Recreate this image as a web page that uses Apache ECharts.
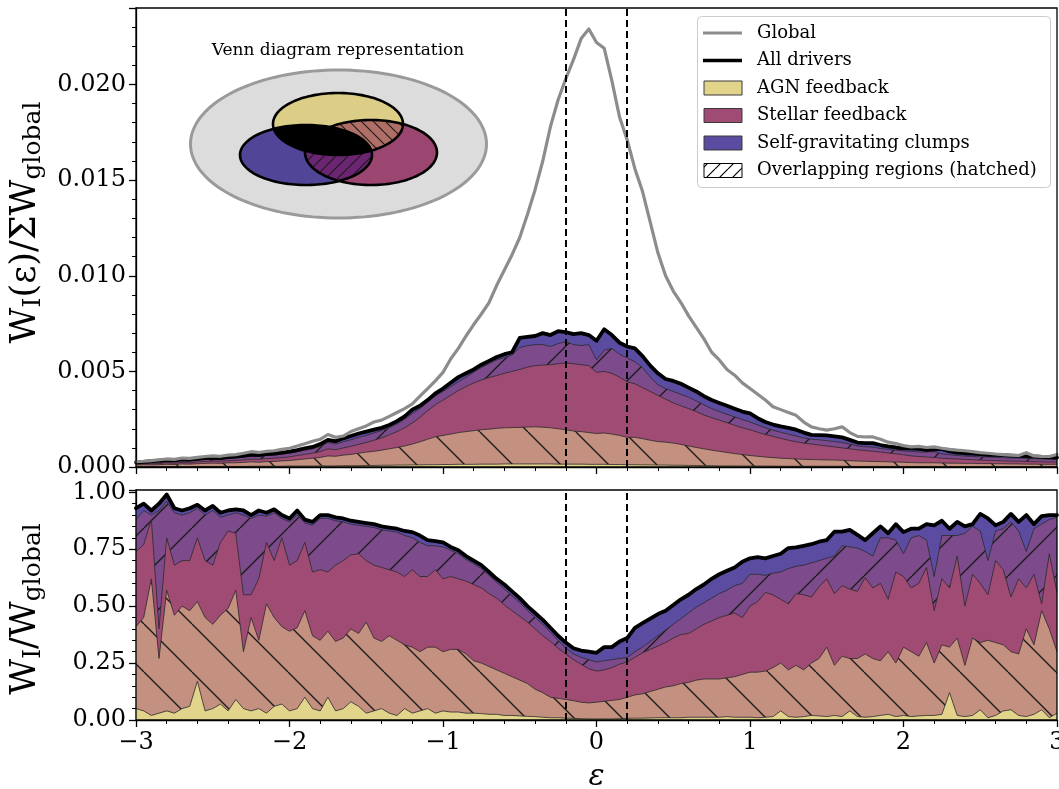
<!DOCTYPE html>
<html>
<head>
<meta charset="utf-8">
<script src="https://cdn.jsdelivr.net/npm/echarts@6/dist/echarts.min.js"></script>
<style>
  html, body { margin: 0; padding: 0; background: #fff; }
  #chart { width: 1059px; height: 789px; }
</style>
</head>
<body>
<div id="chart"></div>
<script>
// Bin centres in epsilon
const eps = [-3,-2.95,-2.9,-2.85,-2.8,-2.75,-2.7,-2.65,-2.6,-2.55,-2.5,-2.45,-2.4,-2.35,-2.3,-2.25,-2.2,-2.15,-2.1,-2.05,
  -2,-1.95,-1.9,-1.85,-1.8,-1.75,-1.7,-1.65,-1.6,-1.55,-1.5,-1.45,-1.4,-1.35,-1.3,-1.25,-1.2,-1.15,-1.1,-1.05,
  -1,-0.95,-0.9,-0.85,-0.8,-0.75,-0.7,-0.65,-0.6,-0.55,-0.5,-0.45,-0.4,-0.35,-0.3,-0.25,-0.2,-0.15,-0.1,-0.05,
  0,0.05,0.1,0.15,0.2,0.25,0.3,0.35,0.4,0.45,0.5,0.55,0.6,0.65,0.7,0.75,0.8,0.85,0.9,0.95,
  1,1.05,1.1,1.15,1.2,1.25,1.3,1.35,1.4,1.45,1.5,1.55,1.6,1.65,1.7,1.75,1.8,1.85,1.9,1.95,
  2,2.05,2.1,2.15,2.2,2.25,2.3,2.35,2.4,2.45,2.5,2.55,2.6,2.65,2.7,2.75,2.8,2.85,2.9,2.95,3];

// Upper panel: W_I(eps)/sum W_global, stored in units of 1e-3
const TOP_UNIT = 1e-3;
const globalTop = [0.28,0.30,0.33,0.38,0.42,0.40,0.47,0.45,0.50,0.55,
  0.58,0.56,0.62,0.65,0.72,0.80,0.76,0.82,0.85,0.92,
  0.98,1.10,1.22,1.35,1.45,1.70,1.55,1.62,1.85,2.00,
  2.15,2.35,2.45,2.65,2.85,3.05,3.30,3.70,4.10,4.50,
  4.95,5.65,6.20,6.85,7.45,8.00,8.60,9.50,10.30,11.10,
  12.00,13.20,14.50,16.00,17.80,19.20,20.30,21.30,22.40,22.90,
  22.20,21.90,20.20,18.30,17.10,15.60,14.40,12.80,11.20,10.00,
  9.20,8.60,7.90,7.30,6.70,6.00,5.60,5.10,4.80,4.40,
  4.10,3.80,3.50,3.15,3.00,2.85,2.70,2.35,2.10,2.00,
  1.93,2.00,2.10,1.80,1.60,1.57,1.57,1.45,1.30,1.22,
  1.12,1.05,1.08,1.02,1.05,0.98,0.92,0.88,0.85,0.80,
  0.75,0.72,0.68,0.65,0.62,0.60,0.75,0.58,0.56,0.55,
  0.65];
const allTop = [0.24,0.27,0.30,0.33,0.36,0.35,0.40,0.38,0.43,0.47,
  0.48,0.47,0.52,0.55,0.58,0.65,0.62,0.68,0.70,0.75,
  0.80,0.88,0.98,1.05,1.20,1.42,1.35,1.50,1.62,1.75,
  1.85,1.95,2.05,2.20,2.40,2.65,3.00,3.20,3.50,3.85,
  4.10,4.40,4.70,4.90,5.10,5.35,5.55,5.75,5.90,6.00,
  6.75,6.80,6.85,7.00,6.90,7.10,7.05,6.95,7.00,6.90,
  6.60,7.20,6.90,6.50,6.30,6.20,5.80,5.30,4.90,4.60,
  4.50,4.35,4.15,3.95,3.70,3.50,3.35,3.20,3.05,2.90,
  2.80,2.55,2.35,2.22,2.12,2.05,1.95,1.80,1.68,1.67,
  1.65,1.60,1.55,1.42,1.28,1.25,1.25,1.15,1.08,1.02,
  0.98,0.98,0.95,0.89,0.92,0.95,0.82,0.75,0.72,0.70,
  0.67,0.64,0.63,0.62,0.60,0.58,0.57,0.56,0.53,0.51,
  0.49];
const clumpStellarTop = [0.22,0.24,0.27,0.29,0.30,0.31,0.35,0.33,0.38,0.41,
  0.43,0.42,0.46,0.49,0.52,0.57,0.55,0.60,0.62,0.67,
  0.72,0.80,0.88,0.95,1.08,1.28,1.20,1.32,1.42,1.55,
  1.65,1.78,1.90,2.05,2.25,2.50,2.80,3.05,3.40,3.70,
  3.95,4.20,4.45,4.70,4.95,5.20,5.40,5.60,5.72,5.85,
  6.25,6.35,6.40,6.40,6.30,6.45,6.55,6.40,6.35,6.40,
  5.60,6.10,6.20,5.90,5.70,5.50,5.20,4.70,4.30,4.10,
  3.95,3.80,3.65,3.45,3.25,3.05,2.90,2.75,2.62,2.48,
  2.35,2.20,2.05,1.92,1.82,1.72,1.62,1.52,1.45,1.42,
  1.38,1.33,1.28,1.20,1.10,1.06,1.04,0.97,0.92,0.88,
  0.84,0.82,0.78,0.78,0.80,0.68,0.64,0.60,0.57,0.55,
  0.53,0.52,0.50,0.48,0.47,0.46,0.45,0.43,0.42,0.41,
  0.40];
const stellarTop = [0.15,0.17,0.20,0.18,0.22,0.20,0.24,0.22,0.27,0.29,
  0.31,0.30,0.33,0.35,0.37,0.41,0.40,0.44,0.46,0.49,
  0.53,0.60,0.66,0.72,0.80,0.95,0.90,1.00,1.08,1.18,
  1.28,1.40,1.52,1.68,1.85,2.05,2.30,2.60,2.95,3.25,
  3.50,3.75,4.00,4.20,4.40,4.55,4.68,4.78,4.90,5.00,
  5.10,5.22,5.30,5.33,5.35,5.40,5.45,5.40,5.35,5.30,
  4.95,5.00,4.90,4.70,4.45,4.35,4.15,3.95,3.75,3.55,
  3.35,3.20,3.05,2.90,2.72,2.58,2.45,2.32,2.18,2.05,
  1.95,1.82,1.70,1.60,1.50,1.40,1.32,1.25,1.20,1.15,
  1.10,1.05,1.00,0.95,0.90,0.86,0.82,0.78,0.73,0.69,
  0.64,0.58,0.55,0.52,0.50,0.46,0.44,0.42,0.40,0.38,
  0.36,0.35,0.34,0.32,0.31,0.30,0.29,0.28,0.27,0.26,
  0.26];
const agnStellarTop = [0.10,0.12,0.11,0.12,0.14,0.13,0.16,0.15,0.17,0.19,
  0.20,0.19,0.22,0.22,0.24,0.27,0.25,0.28,0.29,0.32,
  0.34,0.38,0.42,0.46,0.50,0.58,0.56,0.62,0.66,0.72,
  0.78,0.82,0.88,0.95,1.02,1.10,1.20,1.32,1.45,1.58,
  1.65,1.72,1.80,1.85,1.90,1.95,1.98,2.02,2.05,2.06,
  2.07,2.09,2.10,2.08,2.05,2.00,1.95,1.88,1.85,1.80,
  1.75,1.78,1.72,1.65,1.55,1.55,1.48,1.40,1.33,1.30,
  1.25,1.18,1.10,1.02,0.95,0.88,0.82,0.76,0.70,0.65,
  0.60,0.56,0.52,0.49,0.46,0.44,0.42,0.40,0.39,0.38,
  0.37,0.36,0.35,0.33,0.31,0.30,0.29,0.28,0.27,0.26,
  0.25,0.23,0.22,0.22,0.22,0.21,0.20,0.20,0.19,0.19,
  0.18,0.18,0.17,0.17,0.16,0.16,0.15,0.15,0.14,0.14,
  0.14];
const agnTop = [0.015,0.015,0.02,0.02,0.02,0.02,0.02,0.02,0.03,0.03,
  0.03,0.03,0.03,0.03,0.03,0.04,0.04,0.04,0.04,0.04,
  0.05,0.05,0.05,0.05,0.06,0.06,0.06,0.07,0.07,0.07,
  0.08,0.08,0.09,0.09,0.10,0.10,0.11,0.11,0.12,0.12,
  0.13,0.13,0.14,0.14,0.14,0.15,0.15,0.15,0.16,0.16,
  0.16,0.16,0.16,0.16,0.16,0.15,0.15,0.15,0.15,0.14,
  0.14,0.14,0.13,0.13,0.12,0.12,0.11,0.11,0.10,0.10,
  0.09,0.09,0.08,0.08,0.07,0.07,0.06,0.06,0.06,0.05,
  0.05,0.05,0.05,0.05,0.04,0.04,0.04,0.04,0.04,0.04,
  0.04,0.04,0.04,0.03,0.03,0.03,0.03,0.03,0.03,0.03,
  0.03,0.03,0.03,0.03,0.03,0.02,0.02,0.02,0.02,0.02,
  0.02,0.02,0.02,0.02,0.02,0.02,0.02,0.02,0.02,0.02,
  0.02];

// Lower panel: W_I/W_global (cumulative layer tops)
const allFrac = [0.93,0.95,0.92,0.95,0.99,0.93,0.92,0.93,0.945,0.92,
  0.94,0.91,0.92,0.925,0.92,0.90,0.92,0.91,0.925,0.90,
  0.885,0.92,0.88,0.87,0.90,0.90,0.89,0.885,0.875,0.87,
  0.865,0.86,0.85,0.845,0.84,0.83,0.825,0.81,0.79,0.785,
  0.78,0.76,0.745,0.72,0.70,0.68,0.65,0.62,0.595,0.565,
  0.535,0.50,0.47,0.44,0.405,0.37,0.34,0.315,0.305,0.30,
  0.295,0.32,0.32,0.345,0.36,0.405,0.425,0.445,0.465,0.48,
  0.505,0.53,0.55,0.575,0.595,0.62,0.64,0.655,0.67,0.695,
  0.71,0.715,0.71,0.72,0.73,0.755,0.758,0.765,0.772,0.783,
  0.79,0.827,0.827,0.835,0.813,0.79,0.82,0.85,0.82,0.86,
  0.825,0.84,0.84,0.86,0.855,0.875,0.84,0.87,0.85,0.86,
  0.905,0.885,0.855,0.87,0.905,0.87,0.90,0.86,0.895,0.90,
  0.90];
const clumpStellarFrac = [0.88,0.92,0.90,0.92,0.96,0.91,0.90,0.91,0.93,0.90,
  0.92,0.89,0.90,0.91,0.90,0.885,0.90,0.895,0.91,0.885,
  0.87,0.90,0.865,0.855,0.885,0.885,0.875,0.87,0.86,0.855,
  0.85,0.845,0.835,0.83,0.825,0.81,0.80,0.78,0.765,0.765,
  0.76,0.745,0.73,0.705,0.685,0.665,0.635,0.605,0.575,0.545,
  0.515,0.48,0.45,0.42,0.385,0.35,0.315,0.29,0.275,0.265,
  0.255,0.26,0.265,0.27,0.275,0.30,0.32,0.345,0.37,0.395,
  0.42,0.445,0.47,0.495,0.515,0.535,0.555,0.57,0.59,0.60,
  0.64,0.64,0.635,0.645,0.65,0.665,0.675,0.68,0.69,0.70,
  0.71,0.72,0.765,0.76,0.755,0.74,0.72,0.80,0.80,0.79,
  0.73,0.80,0.81,0.79,0.63,0.81,0.81,0.81,0.82,0.85,
  0.83,0.70,0.83,0.84,0.87,0.83,0.74,0.84,0.86,0.88,
  0.89];
const stellarFrac = [0.74,0.77,0.88,0.40,0.80,0.68,0.70,0.70,0.80,0.70,
  0.68,0.78,0.83,0.82,0.55,0.55,0.62,0.78,0.70,0.80,
  0.68,0.70,0.78,0.65,0.66,0.65,0.68,0.70,0.725,0.73,
  0.70,0.68,0.67,0.66,0.65,0.63,0.66,0.63,0.63,0.66,
  0.62,0.63,0.62,0.61,0.595,0.58,0.555,0.535,0.505,0.48,
  0.455,0.43,0.40,0.37,0.345,0.315,0.29,0.265,0.245,0.225,
  0.215,0.22,0.23,0.245,0.255,0.275,0.295,0.31,0.325,0.34,
  0.36,0.375,0.38,0.40,0.42,0.435,0.45,0.46,0.47,0.45,
  0.50,0.52,0.56,0.55,0.53,0.51,0.555,0.55,0.54,0.585,
  0.62,0.555,0.59,0.575,0.565,0.625,0.58,0.60,0.53,0.65,
  0.63,0.58,0.60,0.67,0.48,0.62,0.58,0.72,0.50,0.64,
  0.60,0.55,0.70,0.66,0.54,0.62,0.58,0.64,0.51,0.73,
  0.56];
const agnStellarFrac = [0.41,0.45,0.62,0.27,0.57,0.46,0.50,0.48,0.52,0.45,
  0.42,0.46,0.49,0.57,0.30,0.45,0.35,0.51,0.45,0.41,
  0.39,0.405,0.48,0.37,0.35,0.39,0.345,0.36,0.40,0.38,
  0.43,0.36,0.345,0.37,0.35,0.33,0.32,0.30,0.32,0.32,
  0.30,0.31,0.31,0.29,0.26,0.25,0.235,0.22,0.205,0.19,
  0.175,0.16,0.135,0.12,0.10,0.095,0.09,0.085,0.078,0.075,
  0.078,0.082,0.086,0.09,0.10,0.11,0.115,0.125,0.135,0.145,
  0.15,0.16,0.165,0.175,0.18,0.18,0.18,0.185,0.19,0.20,
  0.21,0.21,0.215,0.23,0.25,0.22,0.24,0.22,0.25,0.27,
  0.32,0.24,0.28,0.27,0.27,0.29,0.27,0.26,0.30,0.25,
  0.32,0.30,0.28,0.34,0.25,0.33,0.32,0.36,0.24,0.36,
  0.34,0.35,0.34,0.33,0.30,0.29,0.40,0.33,0.48,0.40,
  0.30];
const agnFrac = [0.05,0.04,0.02,0.03,0.04,0.03,0.05,0.06,0.17,0.04,
  0.05,0.07,0.04,0.09,0.05,0.04,0.05,0.03,0.06,0.07,
  0.04,0.05,0.10,0.05,0.04,0.10,0.04,0.05,0.08,0.06,
  0.03,0.04,0.05,0.03,0.02,0.05,0.03,0.04,0.05,0.03,
  0.04,0.035,0.035,0.03,0.03,0.028,0.025,0.025,0.02,0.02,
  0.018,0.016,0.015,0.012,0.01,0.01,0.008,0.007,0.006,0.005,
  0.005,0.005,0.005,0.006,0.007,0.008,0.008,0.009,0.01,0.01,
  0.01,0.01,0.012,0.012,0.012,0.012,0.012,0.015,0.012,0.012,
  0.012,0.01,0.012,0.015,0.04,0.015,0.012,0.015,0.02,0.018,
  0.015,0.02,0.015,0.04,0.015,0.012,0.015,0.02,0.025,0.015,
  0.02,0.015,0.018,0.02,0.02,0.025,0.12,0.02,0.015,0.02,
  0.045,0.01,0.02,0.04,0.045,0.02,0.015,0.025,0.045,0.01,
  0.03];

// Boundaries of the central region
const centralBounds = [-0.2, 0.2];

// Axis tick settings
const xTicks = { min: -3, max: 3, interval: 1 };
const topTicks = { min: 0, max: 0.024, interval: 0.005 };
const bottomTicks = { min: 0, max: 1.01, interval: 0.25 };

const FONT = 'DejaVu Serif';
const COL = {
  agn: '#e3d48c',
  agnStellar: '#c4907f',
  stellar: '#a04b74',
  clumpStellar: '#7d4b8b',
  clump: '#5b4ca2',
  global: '#8c8c8c'
};

// Hatched fill tiles
function hatchTile(base, dir, size, lw, ink) {
  const c = document.createElement('canvas');
  c.width = size; c.height = size;
  const g = c.getContext('2d');
  g.fillStyle = base;
  g.fillRect(0, 0, size, size);
  g.strokeStyle = ink || '#1c1c1c';
  g.lineWidth = lw;
  g.beginPath();
  for (const k of [-1, 0, 1]) {
    if (dir === 'back') { g.moveTo(k * size, 0); g.lineTo(k * size + size, size); }
    else { g.moveTo(k * size, size); g.lineTo(k * size + size, 0); }
  }
  g.stroke();
  return { image: c, repeat: 'repeat' };
}

const hatchAgnStellar = hatchTile(COL.agnStellar, 'back', 48, 1.4);
const hatchClumpStellar = hatchTile(COL.clumpStellar, 'fwd', 48, 1.4);

function pairs(vals, scale) {
  return eps.map((x, i) => [x, vals[i] * scale]);
}

function band(name, vals, scale, fill, g) {
  return {
    type: 'line', name: name, xAxisIndex: g, yAxisIndex: g,
    data: pairs(vals, scale), symbol: 'none', showSymbol: false,
    lineStyle: { color: '#2a2a2a', width: 0.8 },
    areaStyle: { color: fill, opacity: 1 },
    silent: true
  };
}

function curve(name, vals, scale, color, width, g) {
  return {
    type: 'line', name: name, xAxisIndex: g, yAxisIndex: g,
    data: pairs(vals, scale), symbol: 'none', showSymbol: false,
    lineStyle: { color: color, width: width, join: 'round', cap: 'round' },
    silent: true
  };
}

function dashedBounds() {
  return {
    silent: true, symbol: ['none', 'none'],
    label: { show: false },
    lineStyle: { color: '#000', type: [7, 4], width: 2 },
    data: centralBounds.map(v => ({ xAxis: v }))
  };
}

const allTopLine = curve('All drivers', allTop, TOP_UNIT, '#000', 3.8, 0);
const globalLine = curve('Global', globalTop, TOP_UNIT, COL.global, 3.2, 0);
globalLine.markLine = dashedBounds();
const allFracLine = curve('All drivers', allFrac, 1, '#000', 3.8, 1);
allFracLine.markLine = dashedBounds();

const series = [
  band('Self-gravitating clumps', allTop, TOP_UNIT, COL.clump, 0),
  band('Stellar + clumps', clumpStellarTop, TOP_UNIT, hatchClumpStellar, 0),
  band('Stellar feedback', stellarTop, TOP_UNIT, COL.stellar, 0),
  band('AGN + stellar', agnStellarTop, TOP_UNIT, hatchAgnStellar, 0),
  band('AGN feedback', agnTop, TOP_UNIT, COL.agn, 0),
  allTopLine,
  globalLine,
  band('Self-gravitating clumps', allFrac, 1, COL.clump, 1),
  band('Stellar + clumps', clumpStellarFrac, 1, hatchClumpStellar, 1),
  band('Stellar feedback', stellarFrac, 1, COL.stellar, 1),
  band('AGN + stellar', agnStellarFrac, 1, hatchAgnStellar, 1),
  band('AGN feedback', agnFrac, 1, COL.agn, 1),
  allFracLine
];

// Axes
const tickStyle = { color: '#000', width: 1.3 };
function xAxis(g, labels) {
  const ax = {
    type: 'value', gridIndex: g, min: xTicks.min, max: xTicks.max, interval: xTicks.interval,
    axisLine: { show: true, onZero: false, lineStyle: { color: '#000', width: 1.3 } },
    axisTick: { show: true, length: 7, lineStyle: tickStyle },
    minorTick: { show: true, splitNumber: 5, length: 4, lineStyle: { color: '#000', width: 1 } },
    splitLine: { show: false }, minorSplitLine: { show: false },
    axisLabel: { show: false }
  };
  if (labels) {
    ax.axisLabel = {
      show: true, fontFamily: FONT, fontSize: 24, color: '#000', margin: 11,
      formatter: v => String(v).replace('-', '\u2212')
    };
    ax.name = 'ε';
    ax.nameLocation = 'middle';
    ax.nameGap = 42;
    ax.nameTextStyle = { fontFamily: FONT, fontStyle: 'italic', fontSize: 30, color: '#000' };
  }
  return ax;
}
function yAxis(g, t, digits, name, pad) {
  return {
    type: 'value', gridIndex: g, min: t.min, max: t.max, interval: t.interval,
    axisLine: { show: true, onZero: false, lineStyle: { color: '#000', width: 1.3 } },
    axisTick: { show: true, length: 7, lineStyle: tickStyle },
    minorTick: { show: true, splitNumber: 5, length: 4, lineStyle: { color: '#000', width: 1 } },
    splitLine: { show: false }, minorSplitLine: { show: false },
    axisLabel: {
      fontFamily: FONT, fontSize: 24, color: '#000', margin: 10,
      showMaxLabel: false,
      formatter: v => v.toFixed(digits)
    },
    name: name, nameLocation: 'middle', nameRotate: 90, nameGap: 90,
    nameTextStyle: {
      padding: pad,
      rich: {
        m: { fontFamily: FONT, fontSize: 35, color: '#000' },
        s: { fontFamily: FONT, fontSize: 25, color: '#000', padding: [16, 0, 0, 0] }
      }
    }
  };
}

// Venn-diagram inset geometry
function ellipsePts(cx, cy, rx, ry) {
  const pts = [];
  for (let k = 0; k < 144; k++) {
    const t = 2 * Math.PI * k / 144;
    pts.push([cx + rx * Math.cos(t), cy + ry * Math.sin(t)]);
  }
  return pts;
}
function clipConvex(subject, clip) {
  const cx = clip.reduce((s, p) => s + p[0], 0) / clip.length;
  const cy = clip.reduce((s, p) => s + p[1], 0) / clip.length;
  const side = (a, b, p) => (b[0] - a[0]) * (p[1] - a[1]) - (b[1] - a[1]) * (p[0] - a[0]);
  let out = subject;
  for (let i = 0; i < clip.length; i++) {
    const a = clip[i], b = clip[(i + 1) % clip.length];
    const sgn = Math.sign(side(a, b, [cx, cy]));
    const input = out; out = [];
    for (let j = 0; j < input.length; j++) {
      const p = input[j], q = input[(j + 1) % input.length];
      const pin = side(a, b, p) * sgn >= 0, qin = side(a, b, q) * sgn >= 0;
      if (pin) out.push(p);
      if (pin !== qin) {
        const d1 = side(a, b, p), d2 = side(a, b, q);
        const t = d1 / (d1 - d2);
        out.push([p[0] + t * (q[0] - p[0]), p[1] + t * (q[1] - p[1])]);
      }
    }
    if (!out.length) break;
  }
  return out;
}
const vennOuter = ellipsePts(338.5, 144, 148, 74);
const vennAgn = ellipsePts(338, 124, 65, 31);
const vennClump = ellipsePts(306, 155, 66, 30);
const vennStellar = ellipsePts(371, 152.5, 66, 32.5);
const vennHatchAS = hatchTile('#b06f66', 'back', 12, 1.1);
const vennHatchCS = hatchTile('#6c2573', 'fwd', 12, 1.1);

const poly = (pts, style, z) => ({ type: 'polygon', shape: { points: pts }, style: style, z: z || 10, silent: true });

const venn = [
  { type: 'text', z: 10, style: { text: 'Venn diagram representation', x: 338, y: 51, font: '17px "DejaVu Serif"', fill: '#000', textAlign: 'center', textVerticalAlign: 'middle' } },
  poly(vennOuter, { fill: '#dcdcdc', stroke: '#9a9a9a', lineWidth: 3 }),
  poly(vennAgn, { fill: '#dccd87' }),
  poly(vennClump, { fill: '#504597' }),
  poly(vennStellar, { fill: '#9a4670' }),
  poly(clipConvex(vennAgn, vennStellar), { fill: vennHatchAS }),
  poly(clipConvex(vennClump, vennStellar), { fill: vennHatchCS }),
  poly(clipConvex(vennAgn, vennClump), { fill: '#000' }),
  poly(vennAgn, { fill: null, stroke: '#000', lineWidth: 2.6 }),
  poly(vennClump, { fill: null, stroke: '#000', lineWidth: 2.6 }),
  poly(vennStellar, { fill: null, stroke: '#000', lineWidth: 2.6 })
];

// Legend
const legendRows = [
  { label: 'Global', kind: 'line', color: COL.global, width: 3 },
  { label: 'All drivers', kind: 'line', color: '#000', width: 3.6 },
  { label: 'AGN feedback', kind: 'patch', fill: COL.agn },
  { label: 'Stellar feedback', kind: 'patch', fill: COL.stellar },
  { label: 'Self-gravitating clumps', kind: 'patch', fill: COL.clump },
  { label: 'Overlapping regions (hatched)', kind: 'patch', fill: hatchTile('#ffffff', 'fwd', 13, 1.2, '#000'), stroke: '#000' }
];
const legend = [{
  type: 'rect', z: 20, silent: true,
  shape: { x: 697.5, y: 16.5, width: 353, height: 171, r: 4 },
  style: { fill: 'rgba(255,255,255,0.85)', stroke: '#cccccc', lineWidth: 1 }
}];
legendRows.forEach((r, k) => {
  const y = 33 + k * 27.5;
  if (r.kind === 'line') {
    legend.push({ type: 'line', z: 21, silent: true, shape: { x1: 703, y1: y, x2: 742, y2: y }, style: { stroke: r.color, lineWidth: r.width } });
  } else {
    legend.push({ type: 'rect', z: 21, silent: true, shape: { x: 704, y: y - 7, width: 38, height: 14 }, style: { fill: r.fill, stroke: r.stroke || '#3a3a3a', lineWidth: 1 } });
  }
  legend.push({ type: 'text', z: 21, silent: true, style: { text: r.label, x: 757, y: y, font: '18px "DejaVu Serif"', fill: '#000', textAlign: 'left', textVerticalAlign: 'middle' } });
});

// Panel frames
const frames = [
  { type: 'rect', z: 30, silent: true, shape: { x: 136, y: 8, width: 921, height: 459 }, style: { fill: null, stroke: '#000', lineWidth: 1.3 } },
  { type: 'rect', z: 30, silent: true, shape: { x: 136, y: 490, width: 921, height: 230 }, style: { fill: null, stroke: '#000', lineWidth: 1.3 } }
];

const chart = echarts.init(document.getElementById('chart'), null, { renderer: 'canvas' });
chart.setOption({
  animation: false,
  backgroundColor: '#fff',
  grid: [
    { left: 136, top: 8, width: 921, height: 459, containLabel: false, outerBoundsMode: 'none' },
    { left: 136, top: 490, width: 921, height: 230, containLabel: false, outerBoundsMode: 'none' }
  ],
  xAxis: [xAxis(0, false), xAxis(1, true)],
  yAxis: [
    yAxis(0, topTicks, 3, '{m|W}{s|I}{m|(ε)/ΣW}{s|global}', [0, 0, 0, 30]),
    yAxis(1, bottomTicks, 2, '{m|W}{s|I}{m|/W}{s|global}', [0, 8, 0, 0])
  ],
  series: series,
  graphic: venn.concat(legend, frames)
});
</script>
</body>
</html>
